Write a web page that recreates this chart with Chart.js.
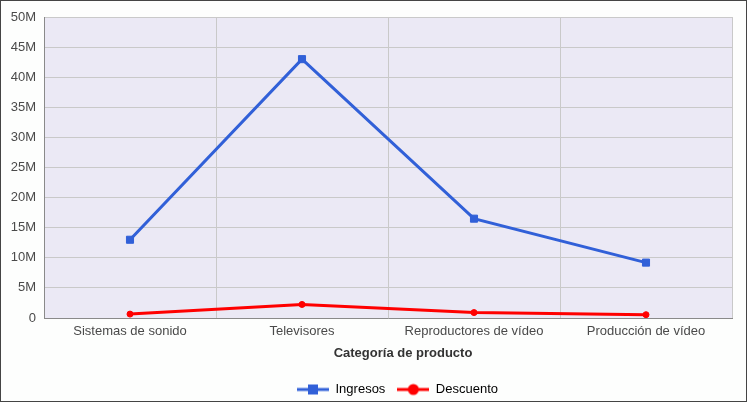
<!DOCTYPE html>
<html>
<head>
<meta charset="utf-8">
<script src="https://cdn.jsdelivr.net/npm/chart.js@4.4.1/dist/chart.umd.min.js"></script>
<style>
  html, body { margin: 0; padding: 0; background: #fff; }
  #marco {
    box-sizing: border-box;
    width: 747px; height: 402px;
    border: 1px solid #444;
    background: #fdfefd;
  }
  #grafico { display: block; }
</style>
</head>
<body>
<div id="marco"><canvas id="grafico" width="745" height="400"></canvas></div>
<script>
const categorias = ['Sistemas de sonido', 'Televisores', 'Reproductores de vídeo', 'Producción de vídeo'];
const ingresos = [13000000, 43000000, 16500000, 9200000];
const descuento = [650000, 2250000, 900000, 550000];
const marcasY = [0, 5e6, 10e6, 15e6, 20e6, 25e6, 30e6, 35e6, 40e6, 45e6, 50e6];
const tituloX = 'Categoría de producto';

const azul = '#3160d8';
const rojo = '#ff0000';

Chart.defaults.font.family = '"Liberation Sans", Arial, sans-serif';
Chart.defaults.font.size = 13;
Chart.defaults.color = '#4a4a4a';

// icono de leyenda: linea con marcador, como en el original
function iconoLeyenda(color, forma) {
    const c = document.createElement('canvas');
    c.width = 32; c.height = 14;
    const ctx = c.getContext('2d');
    ctx.strokeStyle = color;
    ctx.lineWidth = 3;
    ctx.beginPath();
    ctx.moveTo(0, 7);
    ctx.lineTo(32, 7);
    ctx.stroke();
    ctx.fillStyle = color;
    if (forma === 'cuadro') {
        ctx.fillRect(11, 2, 10, 10);
    } else {
        ctx.beginPath();
        ctx.arc(16, 7, 5.5, 0, Math.PI * 2);
        ctx.fill();
    }
    return c;
}

const fondoArea = {
    id: 'fondoArea',
    beforeDraw(chart) {
        const a = chart.chartArea;
        const ctx = chart.ctx;
        ctx.save();
        ctx.fillStyle = '#ebe9f5';
        ctx.fillRect(a.left, a.top, a.right - a.left, a.bottom - a.top);
        ctx.restore();
    }
};

// en el original la leyenda y el titulo del eje quedan algo a la derecha del centro
const desplazamientos = {
    id: 'desplazamientos',
    afterLayout(chart) {
        chart.legend.left += 31;
        chart.legend.right += 31;
    },
    afterDraw(chart) {
        const ctx = chart.ctx;
        const a = chart.chartArea;
        ctx.save();
        ctx.font = 'bold 13px "Liberation Sans", Arial, sans-serif';
        ctx.fillStyle = '#333';
        ctx.textAlign = 'center';
        ctx.textBaseline = 'middle';
        ctx.fillText(tituloX, (a.left + a.right) / 2 + 15, a.bottom + 35);
        ctx.restore();
    }
};

new Chart(document.getElementById('grafico'), {
    type: 'line',
    data: {
        labels: categorias,
        datasets: [{
            label: 'Ingresos',
            data: ingresos,
            borderColor: azul,
            backgroundColor: azul,
            borderWidth: 3,
            pointStyle: 'rect',
            pointRadius: 5,
            pointBorderWidth: 1,
            pointHoverRadius: 5,
            tension: 0
        }, {
            label: 'Descuento',
            data: descuento,
            borderColor: rojo,
            backgroundColor: rojo,
            borderWidth: 3,
            pointStyle: 'circle',
            pointRadius: 3,
            pointBorderWidth: 1,
            pointHoverRadius: 3,
            tension: 0
        }]
    },
    options: {
        responsive: false,
        animation: false,
        layout: { padding: { top: 16, right: 14, left: 0, bottom: -5 } },
        scales: {
            x: {
                offset: true,
                grid: { offset: true, color: '#c9c9c9', drawTicks: false },
                border: { color: '#8a8a8a' },
                ticks: { padding: 6, maxRotation: 0 },
                title: { display: false },
                afterFit: s => { s.height = 53; }
            },
            y: {
                min: 0,
                max: 50e6,
                afterBuildTicks: s => { s.ticks = marcasY.map(v => ({ value: v })); },
                grid: { color: '#c9c9c9', drawTicks: false },
                border: { color: '#8a8a8a' },
                ticks: {
                    padding: 8,
                    callback: v => v === 0 ? '0' : (v / 1e6) + 'M'
                },
                afterFit: s => { s.width = 43; }
            }
        },
        plugins: {
            legend: {
                position: 'bottom',
                labels: {
                    usePointStyle: true,
                    pointStyleWidth: 32,
                    boxHeight: 13,
                    padding: 12,
                    color: '#333',
                    generateLabels: chart => chart.data.datasets.map((d, i) => ({
                        text: d.label,
                        pointStyle: iconoLeyenda(d.borderColor, i === 0 ? 'cuadro' : 'circulo'),
                        fillStyle: d.borderColor,
                        strokeStyle: d.borderColor,
                        lineWidth: 0,
                        hidden: false,
                        datasetIndex: i
                    }))
                }
            },
            tooltip: { enabled: false }
        }
    },
    plugins: [fondoArea, desplazamientos]
});
</script>
</body>
</html>
